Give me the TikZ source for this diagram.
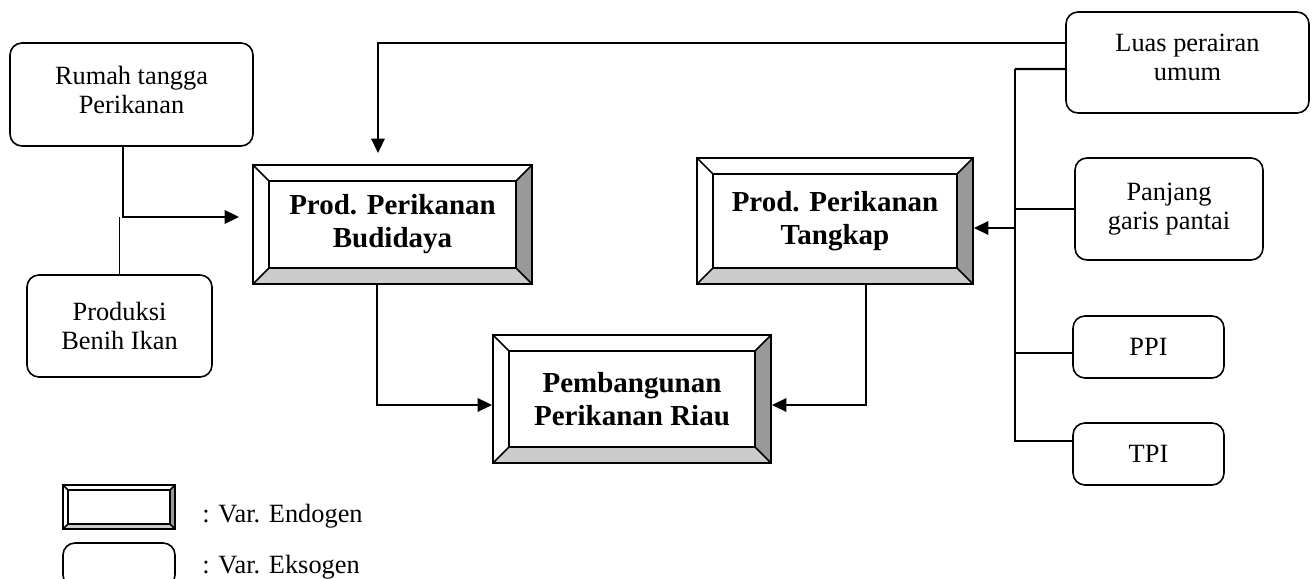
\documentclass[tikz,border=0pt]{standalone}
\usepackage{fontspec}
\setmainfont{Liberation Serif}
\usetikzlibrary{positioning, calc, arrows.meta}

\begin{document}
\begin{tikzpicture}
  \tikzstyle{coord}=[inner sep=0pt, outer sep=0pt, node distance=0pt]
  \tikzstyle{ekso}=[draw, rounded corners=0.24cm, line width=0.9pt, align=center, font=\fontsize{15}{16.5}\selectfont]
  \tikzstyle{raised}=[text depth=0.2cm]
  \tikzstyle{legtext}=[inner sep=0pt, font=\fontsize{15}{16.5}\selectfont]
  \tikzstyle{conn}=[line width=1.15pt]
  \tikzstyle{thinconn}=[line width=0.6pt]
  \tikzstyle{arrowed}=[-{Triangle[length=0.29cm, width=0.27cm]}]
  \tikzset{endo/.style={draw, line width=1.1pt, fill=white, align=center,
      font=\fontsize{16.5}{18.8}\selectfont\bfseries,
      path picture={
        \coordinate (bsw) at (path picture bounding box.south west);
        \coordinate (bne) at (path picture bounding box.north east);
        \coordinate (bse) at (bsw -| bne);
        \coordinate (bnw) at (bsw |- bne);
        \coordinate (isw) at ($(bsw)+(#1,#1)$);
        \coordinate (ine) at ($(bne)-(#1,#1)$);
        \coordinate (ise) at (isw -| ine);
        \coordinate (inw) at (isw |- ine);
        \fill[black!40] (bse) -- (bne) -- (ine) -- (ise) -- cycle;
        \fill[black!20] (bsw) -- (bse) -- (ise) -- (isw) -- cycle;
        \draw[line width=0.9pt] (isw) rectangle (ine);
        \draw[line width=0.9pt] (bsw) -- (isw) (bse) -- (ise) (bne) -- (ine) (bnw) -- (inw);
      }},
    endo/.default=0.32cm}

  \useasboundingbox (0,0) rectangle (26.32,-11.58);

  % exogenous variables
  \node (rumah) at (2.63,-1.89) [ekso, raised, minimum width=4.86cm, minimum height=2.06cm] {Rumah tangga\\Perikanan};
  \node (benih) at (2.39,-6.52) [ekso, minimum width=3.70cm, minimum height=2.04cm] {Produksi\\Benih Ikan};
  \node (luas) at (23.75,-1.25) [ekso, raised, minimum width=4.86cm, minimum height=2.02cm] {Luas perairan\\umum};
  \node (panjang) at (23.38,-4.18) [ekso, minimum width=3.76cm, minimum height=2.04cm] {Panjang\\garis pantai};
  \node (ppi) at (22.97,-6.94) [ekso, minimum width=3.02cm, minimum height=1.24cm] {PPI};
  \node (tpi) at (22.97,-9.08) [ekso, minimum width=3.02cm, minimum height=1.24cm] {TPI};

  % endogenous variables
  \node (budidaya) at (7.85,-4.49) [endo, minimum width=5.58cm, minimum height=2.38cm] {Prod. Perikanan\\Budidaya};
  \node (tangkap) at (16.70,-4.42) [endo, minimum width=5.52cm, minimum height=2.52cm] {Prod. Perikanan\\Tangkap};
  \node (pembangunan) at (12.64,-7.98) [endo, minimum width=5.56cm, minimum height=2.56cm] {Pembangunan\\Perikanan Riau};

  % left inputs
  \draw[conn, arrowed] ([xshift=-0.17cm]rumah.south) |- node[coord, pos=0.5] (join) {} ([xshift=-0.26cm, yshift=0.15cm]budidaya.west);
  \draw[thinconn] (benih.north) -- (benih.north |- join);

  % feedback from luas perairan
  \draw[conn, arrowed] ([yshift=0.39cm]luas.west) -| ([xshift=-0.29cm, yshift=0.22cm]budidaya.north);

  % bus on the right
  \coordinate (bustop) at (20.30,-1.38);
  \draw[conn] ([yshift=-0.13cm]luas.west) -- (bustop);
  \draw[thinconn] (panjang.west) -| (bustop);
  \draw[conn] ([yshift=-0.12cm]ppi.west) -| (bustop);
  \draw[conn] ([yshift=0.26cm]tpi.west) -| (bustop);
  \draw[conn, arrowed] (bustop) |- ([yshift=-0.14cm]tangkap.east);

  % into pembangunan
  \draw[conn, arrowed] ([xshift=-0.31cm]budidaya.south) |- ([yshift=-0.12cm]pembangunan.west);
  \draw[conn, arrowed] ([xshift=0.62cm]tangkap.south) |- ([yshift=-0.12cm]pembangunan.east);

  % legend
  \node (legendo) at (2.38,-10.14) [endo=0.1cm, minimum width=2.24cm, minimum height=0.88cm] {};
  \node (legekso) at (2.38,-11.30) [ekso, minimum width=2.24cm, minimum height=0.88cm] {};
  \node (legendotext) at (4.04,-10.44) [anchor=base west, legtext] {: Var. Endogen};
  \node (legeksotext) at (4.04,-11.46) [anchor=base west, legtext] {: Var. Eksogen};
\end{tikzpicture}
\end{document}
